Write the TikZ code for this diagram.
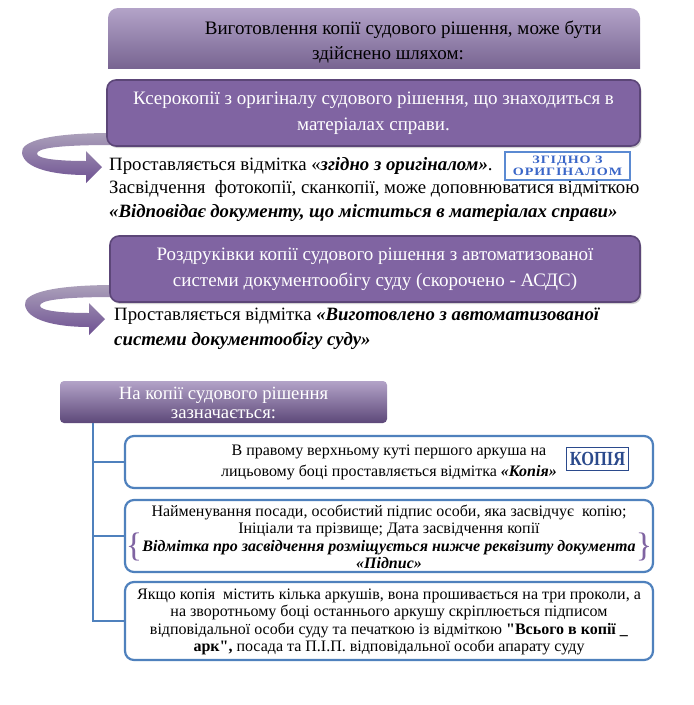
\documentclass[tikz,border=0pt]{standalone}
\usepackage{fontspec}
\setmainfont{Liberation Serif}[Ligatures=TeXOff]
\newfontfamily\stampfont[FakeStretch=1.25, LetterSpace=8]{Liberation Serif}
\newfontfamily\kopiafont[FakeStretch=0.82]{Liberation Serif}
\usetikzlibrary{shadows}
\definecolor{gradtop}{HTML}{B3A3C8}
\definecolor{gradbot}{HTML}{5D4879}
\definecolor{boxfill}{HTML}{8064A2}
\definecolor{boxline}{HTML}{5C4678}
\definecolor{arrtop}{HTML}{ABA0BA}
\definecolor{arrbot}{HTML}{6E5192}
\definecolor{treeblue}{HTML}{4F81BD}
\definecolor{stampblue}{HTML}{3A66C8}
\definecolor{stampline}{HTML}{5B8AD2}
\definecolor{stampdark}{HTML}{2B4A8C}
\tikzset{
  purplebox/.style={draw=boxline, line width=1.6pt, fill=boxfill, rounded corners=9pt,
    text=white, align=center, font=\fontsize{19}{26}\selectfont,
    drop shadow={shadow xshift=1.5pt, shadow yshift=-2pt, opacity=0.35}},
  whitebox/.style={draw=treeblue, line width=2.2pt, fill=white, rounded corners=9pt,
    align=center, inner sep=0pt},
  plaintext/.style={align=left, inner sep=0pt, font=\fontsize{18.8}{23.5}\selectfont},
  tree/.style={draw=treeblue, line width=2.8pt},
  curvarrow/.style={top color=arrtop, bottom color=arrbot, draw=none},
  bracetxt/.style={text=boxfill, inner sep=0pt, font=\fontsize{34}{34}\selectfont},
}
\begin{document}
\begin{tikzpicture}[x=1pt,y=-1pt]
\useasboundingbox (0,0) rectangle (694,705);
\fill[white] (0,0) rectangle (694,705);

% title
\begin{scope}
  \clip (100,0) rectangle (650,68);
  \shade[top color=gradtop, bottom color=gradbot, rounded corners=10pt] (108,8) rectangle (640,95);
\end{scope}
\node[align=center, inner sep=0pt, font=\fontsize{19}{25}\selectfont] (title) at (388,42)
  {\hspace*{1.6em}Виготовлення копії судового рішення, може бути\\здійснено шляхом:};

% curved arrows
\path[curvarrow] (112,133) .. controls (50,133) and (20,141) .. (22,153)
  .. controls (24,169) and (55,175) .. (86,175) -- (86,183) -- (102,167) -- (86,151) -- (86,161)
  .. controls (60,161) and (38,159) .. (37,154) .. controls (36,148) and (60,145) .. (112,145) -- cycle;
\begin{scope}[shift={(3,152)}]
\path[curvarrow] (112,133) .. controls (50,133) and (20,141) .. (22,153)
  .. controls (24,169) and (55,175) .. (86,175) -- (86,183) -- (102,167) -- (86,151) -- (86,161)
  .. controls (60,161) and (38,159) .. (37,154) .. controls (36,148) and (60,145) .. (112,145) -- cycle;
\end{scope}

% box 2
\node[purplebox, minimum width=533pt, minimum height=66pt] (b2) at (373.5,113)
  {Ксерокопії з оригіналу судового рішення, що знаходиться в\\матеріалах справи.};
\node[plaintext, anchor=north west] (t2) at (109,157)
  {Проставляється відмітка «\textbf{\textit{згідно з оригіналом»}}.\\
   Засвідчення\ \ фотокопії, сканкопії, може доповнюватися відміткою\\
   \textbf{\textit{«Відповідає документу, що міститься в матеріалах справи»}}};
\node[draw=stampline, line width=1.6pt, minimum width=125pt, minimum height=28pt, inner sep=0pt,
  text=stampblue, align=center, font=\stampfont\fontsize{11.3}{12.5}\selectfont\bfseries] (st1) at (567.5,166)
  {ЗГІДНО З\\ОРИГІНАЛОМ};

% box 3
\node[purplebox, minimum width=530pt, minimum height=66pt] (b3) at (375,269)
  {Роздруківки копії судового рішення з автоматизованої\\системи документообігу суду (скорочено - АСДС)};
\node[plaintext, anchor=north west] (t3) at (114,308)
  {Проставляється відмітка \textbf{\textit{«Виготовлено з автоматизованої}}\\[1pt]
   \textbf{\textit{системи документообігу суду»}}};

% lower section
\shade[top color=gradtop, bottom color=gradbot, rounded corners=4pt] (60,381) rectangle (387,423);
\node[align=center, inner sep=0pt, text=white, font=\fontsize{18.7}{19.5}\selectfont] (zn) at (223.5,403)
  {На копії судового рішення\\зазначається:};
\coordinate (znb) at (93,423);

\node[whitebox, minimum width=528pt, minimum height=52pt] (ba) at (389,462) {};
\node[align=center, inner sep=0pt, font=\fontsize{16}{21}\selectfont] (tA) at (389,462)
  {В правому верхньому куті першого аркуша на\\лицьовому боці проставляється відмітка \textbf{\textit{«Копія»}}};
\node[draw=stampdark, line width=1.3pt, minimum width=62pt, minimum height=23pt, inner sep=0pt,
  text=stampdark, font=\kopiafont\fontsize{20}{20}\selectfont\bfseries] (st2) at (597.5,459) {КОПІЯ};

\node[whitebox, minimum width=528pt, minimum height=72pt] (bb) at (389,536) {};
\node[align=center, inner sep=0pt, font=\fontsize{16}{17.5}\selectfont] (tB) at (389,537)
  {Найменування посади, особистий підпис особи, яка засвідчує\ \ копію;\\
   Ініціали та прізвище; Дата засвідчення копії\\
   \textbf{\textit{Відмітка про засвідчення розміщується нижче реквізиту документа}}\\
   \textbf{\textit{«Підпис»}}};
\node[bracetxt] (brl) at (134,547) {\{};
\node[bracetxt] (brr) at (644,547) {\}};

\node[whitebox, minimum width=528pt, minimum height=78pt] (bc) at (389,621) {};
\node[align=center, inner sep=0pt, font=\fontsize{16}{17.5}\selectfont] (tC) at (389,622)
  {Якщо копія\ \ містить кілька аркушів, вона прошивається на три проколи, а\\
   на зворотньому боці останнього аркушу скріплюється підписом\\
   відповідальної особи суду та печаткою із відміткою \textbf{"Всього в копії \_}\\
   \textbf{арк",} посада та П.І.П. відповідальної особи апарату суду};

\draw[tree] (znb) |- (ba.west);
\draw[tree] (znb) |- (bb.west);
\draw[tree] (znb) |- (bc.west);
\end{tikzpicture}
\end{document}
